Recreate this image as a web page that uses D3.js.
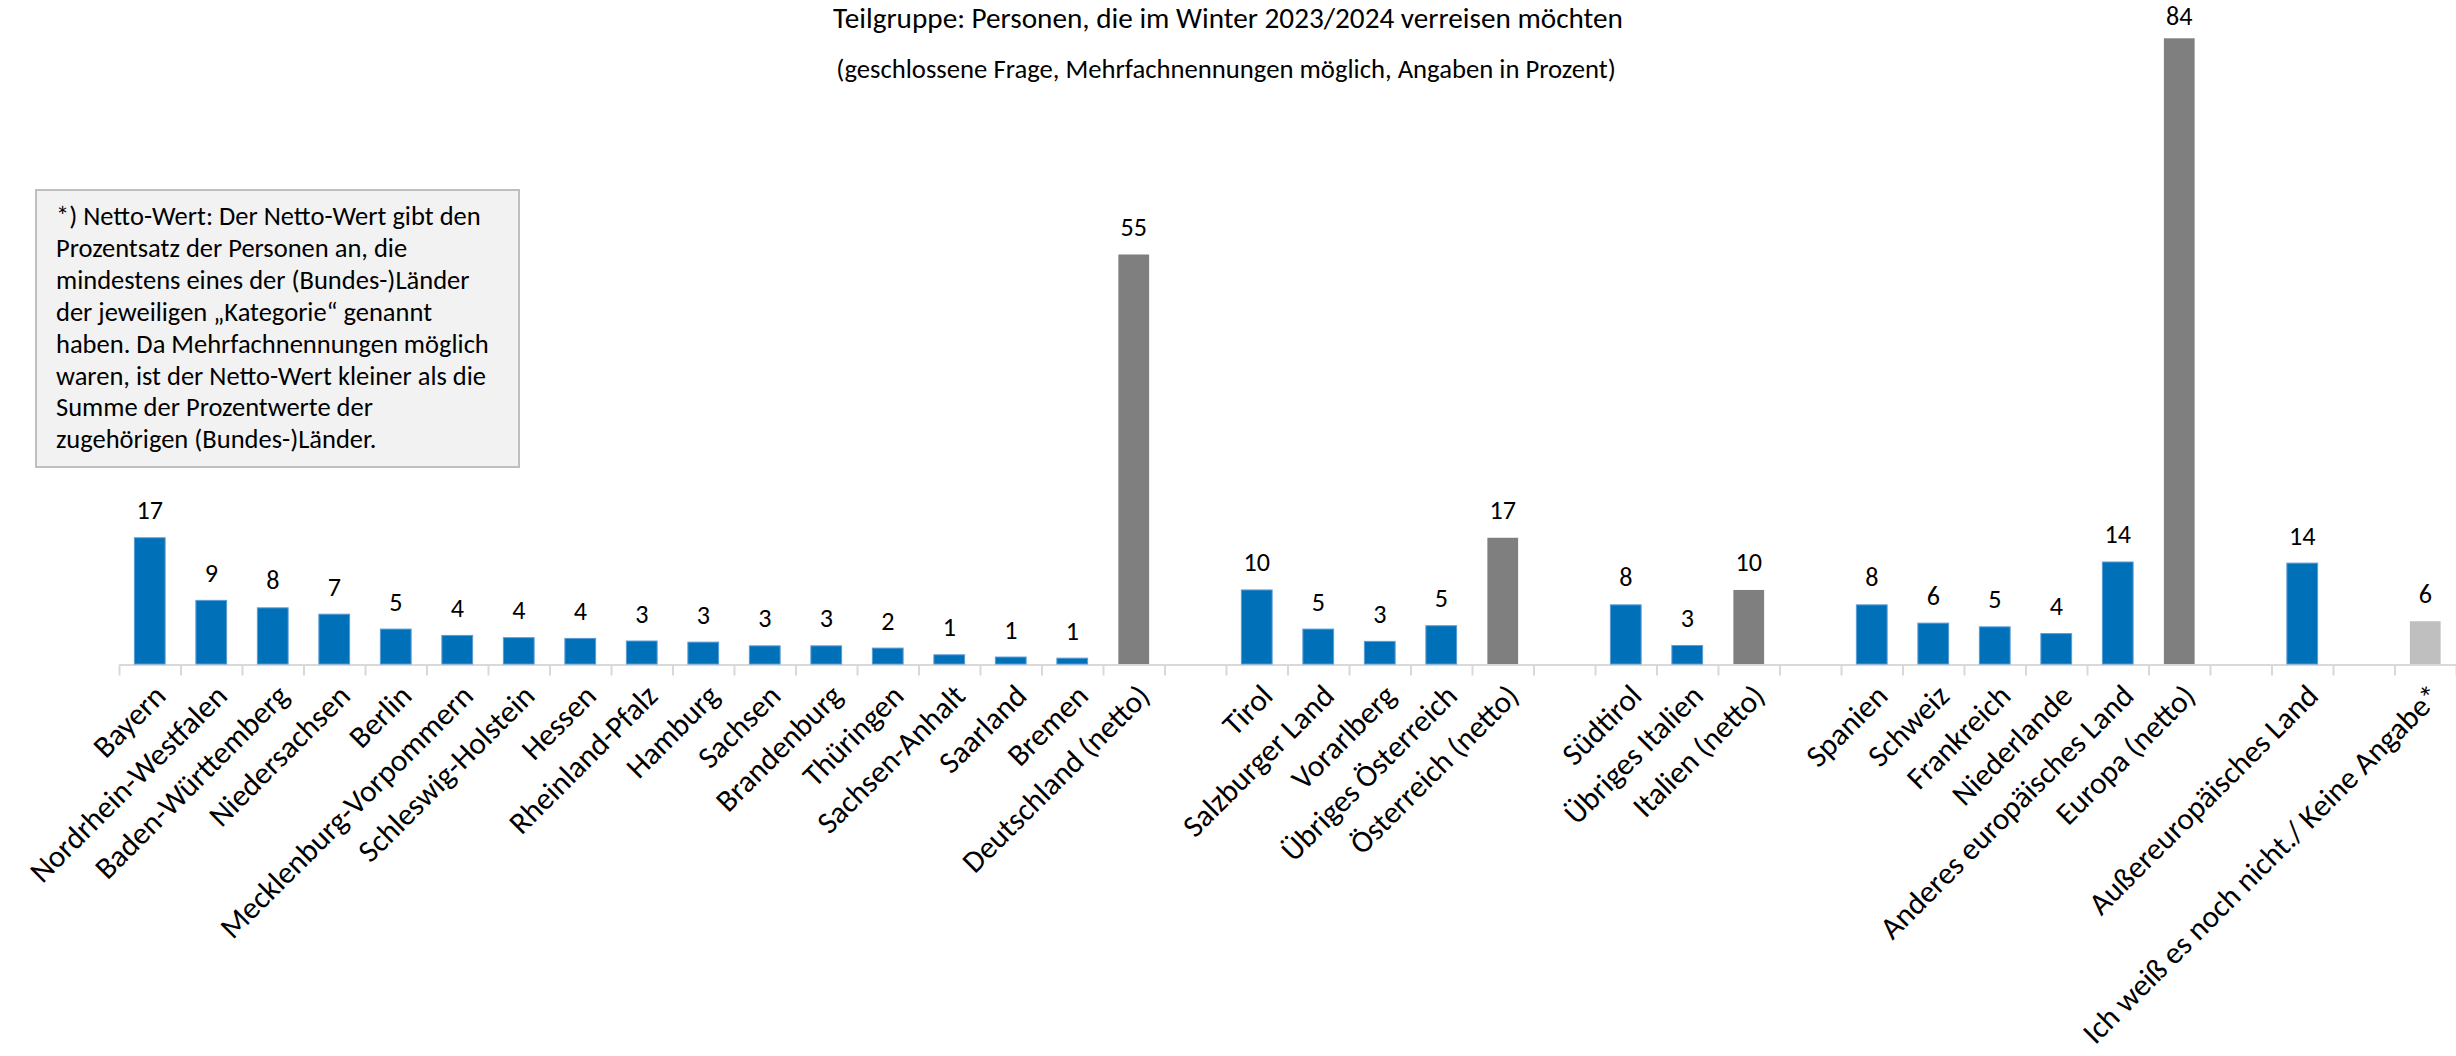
<!DOCTYPE html>
<html>
<head>
<meta charset="utf-8">
<script src="https://cdn.jsdelivr.net/npm/d3@7"></script>
<style>
  html, body { margin: 0; padding: 0; background: #ffffff; }
  svg { display: block; }
</style>
</head>
<body>
<svg id="chart" width="2456" height="1056"></svg>
<script>
// ---------------- DATA ----------------
const categories = [
  "Bayern", "Nordrhein-Westfalen", "Baden-Württemberg", "Niedersachsen", "Berlin",
  "Mecklenburg-Vorpommern", "Schleswig-Holstein", "Hessen", "Rheinland-Pfalz", "Hamburg",
  "Sachsen", "Brandenburg", "Thüringen", "Sachsen-Anhalt", "Saarland", "Bremen",
  "Deutschland (netto)", "",
  "Tirol", "Salzburger Land", "Vorarlberg", "Übriges Österreich", "Österreich (netto)", "",
  "Südtirol", "Übriges Italien", "Italien (netto)", "",
  "Spanien", "Schweiz", "Frankreich", "Niederlande", "Anderes europäisches Land", "Europa (netto)", "",
  "Außereuropäisches Land", "",
  "Ich weiß es noch nicht./ Keine Angabe*"
];

const values = [
  17, 8.6, 7.6, 6.75, 4.75,
  3.9, 3.6, 3.5, 3.15, 3.0,
  2.5, 2.5, 2.2, 1.3, 1.0, 0.85,
  55, null,
  10, 4.75, 3.1, 5.2, 17, null,
  8, 2.55, 10, null,
  8, 5.55, 5.05, 4.15, 13.75, 84, null,
  13.6, null,
  5.8
];

const kinds = [
  "region", "region", "region", "region", "region",
  "region", "region", "region", "region", "region",
  "region", "region", "region", "region", "region", "region",
  "netto", "gap",
  "region", "region", "region", "region", "netto", "gap",
  "region", "region", "netto", "gap",
  "region", "region", "region", "region", "region", "netto", "gap",
  "region", "gap",
  "other"
];

const titleText = "Teilgruppe: Personen, die im Winter 2023/2024 verreisen möchten";
const subtitleText = "(geschlossene Frage, Mehrfachnennungen möglich, Angaben in Prozent)";
const noteLines = [
  "*) Netto-Wert: Der Netto-Wert gibt den",
  "Prozentsatz der Personen an, die",
  "mindestens eines der (Bundes-)Länder",
  "der jeweiligen \u201EKategorie\u201C genannt",
  "haben. Da Mehrfachnennungen möglich",
  "waren, ist der Netto-Wert kleiner als die",
  "Summe der Prozentwerte der",
  "zugehörigen (Bundes-)Länder."
];

// ---------------- LAYOUT ----------------
const FONT = "Carlito, Calibri, Lato, 'Open Sans', sans-serif";
const plotLeft = 119, plotRight = 2456;
const baseY = 664.5;
const plotTopLabelLimit = 25.3;

const svg = d3.select("#chart");

function fitSize(text, targetWidth) {
  const t = svg.append("text")
    .style("font-family", FONT)
    .style("font-size", "100px")
    .text(text);
  const w = t.node().getComputedTextLength();
  t.remove();
  return 100 * targetWidth / w;
}

const idx = d3.range(categories.length);

const x = d3.scaleBand()
  .domain(idx)
  .range([plotLeft, plotRight])
  .paddingInner(0.5)
  .paddingOuter(0.25);

const xEdges = d3.scaleLinear()
  .domain([0, categories.length])
  .range([plotLeft, plotRight]);

const y = d3.scaleLinear()
  .domain([0, 84])
  .range([baseY, 38.3]);

const color = d3.scaleOrdinal()
  .domain(["region", "netto", "other"])
  .range(["#0070b8", "#7f7f7f", "#bfbfbf"]);

// ---------------- TITLE ----------------
const titleSize = fitSize(titleText, 790);
svg.append("text")
  .attr("x", 1228).attr("y", 28)
  .attr("text-anchor", "middle")
  .style("font-family", FONT)
  .style("font-size", titleSize + "px")
  .style("fill", "#000")
  .text(titleText);

const subSize = fitSize(subtitleText, 780);
svg.append("text")
  .attr("x", 1226).attr("y", 78)
  .attr("text-anchor", "middle")
  .style("font-family", FONT)
  .style("font-size", subSize + "px")
  .style("fill", "#000")
  .text(subtitleText);

// ---------------- NOTE BOX ----------------
const note = svg.append("g");
note.append("rect")
  .attr("x", 36).attr("y", 190)
  .attr("width", 483).attr("height", 277)
  .attr("fill", "#f2f2f2")
  .attr("stroke", "#bfbfbf")
  .attr("stroke-width", 2);
const noteSize = fitSize(noteLines[4], 433);
note.selectAll("text")
  .data(noteLines)
  .join("text")
  .attr("x", 56)
  .attr("y", (d, i) => 225 + i * 31.9)
  .style("font-family", FONT)
  .style("font-size", noteSize + "px")
  .style("fill", "#000")
  .text(d => d);

// ---------------- AXIS ----------------
const axisG = svg.append("g").attr("transform", `translate(0,${baseY})`);

// boundary ticks + axis line
const edgeAxis = d3.axisBottom(xEdges)
  .tickValues(d3.range(0, categories.length + 1))
  .tickFormat("")
  .tickSize(11)
  .tickSizeOuter(0);
const edgeG = axisG.append("g").call(edgeAxis);
edgeG.select(".domain").attr("stroke", "#d9d9d9").attr("stroke-width", 2);
edgeG.selectAll(".tick line").attr("stroke", "#d9d9d9").attr("stroke-width", 2);

// category labels
const labelSize = fitSize(categories[categories.length - 1], 492);
const labelAxis = d3.axisBottom(x)
  .tickSize(0)
  .tickSizeOuter(0)
  .tickFormat(i => categories[i]);
const labelG = axisG.append("g").call(labelAxis);
labelG.select(".domain").remove();
labelG.selectAll(".tick text")
  .attr("x", 0).attr("y", 0)
  .attr("dy", "0.72em")
  .attr("transform", `translate(2,${682 - baseY}) rotate(-45)`)
  .style("text-anchor", "end")
  .style("font-family", FONT)
  .style("font-size", labelSize + "px")
  .style("fill", "#000");

// ---------------- BARS ----------------
const barData = idx.filter(i => values[i] !== null);

svg.append("g")
  .selectAll("rect")
  .data(barData)
  .join("rect")
  .attr("x", i => x(i))
  .attr("width", x.bandwidth())
  .attr("y", i => y(values[i]))
  .attr("height", i => baseY - 0.5 - y(values[i]))
  .attr("fill", i => color(kinds[i]))
  .attr("stroke", i => kinds[i] === "region" ? "#5b9bd5" : "none")
  .attr("stroke-width", 1);

// ---------------- VALUE LABELS ----------------
const valSize = fitSize("17", 26.5);
svg.append("g")
  .selectAll("text")
  .data(barData)
  .join("text")
  .attr("x", i => x(i) + x.bandwidth() / 2)
  .attr("y", i => Math.max(y(values[i]) - 18.5, plotTopLabelLimit))
  .attr("text-anchor", "middle")
  .style("font-family", FONT)
  .style("font-size", valSize + "px")
  .style("fill", "#000")
  .text(i => Math.round(values[i]));
</script>
</body>
</html>
